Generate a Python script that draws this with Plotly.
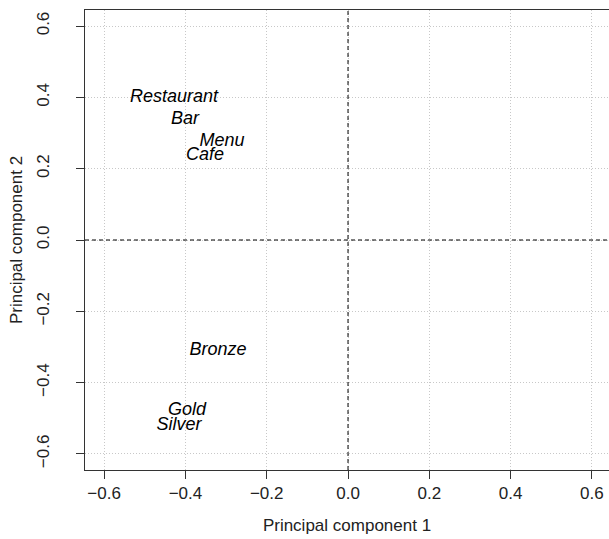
import plotly.graph_objects as go

labels = ["Restaurant", "Bar", "Menu", "Cafe", "Bronze", "Gold", "Silver"]
pc1 = [-0.428, -0.401, -0.310, -0.352, -0.320, -0.396, -0.416]
pc2 = [0.399, 0.337, 0.275, 0.236, -0.309, -0.478, -0.520]
tick_vals = [-0.6, -0.4, -0.2, 0.0, 0.2, 0.4, 0.6]
tick_text = ["\u22120.6", "\u22120.4", "\u22120.2", "0.0", "0.2", "0.4", "0.6"]

FONT = "Liberation Sans, Arial, Helvetica, sans-serif"

fig = go.Figure()
fig.add_trace(go.Scatter(
    x=pc1, y=pc2, mode="text", text=labels,
    textfont=dict(family=FONT, size=18, color="black", style="italic"),
    textposition="middle center", hoverinfo="skip", showlegend=False,
))

# dashed reference lines at 0
fig.add_shape(type="line", xref="x", yref="paper", x0=0, x1=0, y0=0, y1=1,
              line=dict(color="black", width=1, dash="4px,3px"), layer="above")
fig.add_shape(type="line", xref="paper", yref="y", x0=0, x1=1, y0=0, y1=0,
              line=dict(color="black", width=1, dash="4px,3px"), layer="above")

axis_common = dict(
    tickvals=tick_vals, ticktext=tick_text, automargin=False,
    showgrid=True, gridcolor="#c8c8c8", griddash="1px,2px", gridwidth=1,
    zeroline=False, ticks="outside", ticklen=8, tickcolor="#333333", tickwidth=1,
    showline=True, linecolor="#333333", linewidth=1,
    tickfont=dict(family=FONT, size=17, color="#222222"),
)

fig.update_xaxes(
    range=[-0.647, 0.642], mirror=True,
    title=dict(text="Principal component 1", font=dict(family=FONT, size=17, color="#222222"), standoff=16),
    ticklabelstandoff=0,
    **axis_common,
)
fig.update_yaxes(
    range=[-0.645, 0.645], mirror=False, tickangle=-90,
    title=dict(text="Principal component 2", font=dict(family=FONT, size=17, color="#222222"), standoff=7),
    ticklabelstandoff=20,
    **axis_common,
)

fig.update_layout(
    width=609, height=539,
    margin=dict(l=85, r=0, t=10, b=69),
    plot_bgcolor="white", paper_bgcolor="white",
    font=dict(family=FONT),
)

# remove the page's default body margin so the figure fills the window exactly
fig.write_html(
    "out.html",
    config={"displayModeBar": False},
    post_script="document.body.style.margin='0';document.body.style.overflow='hidden';",
)
